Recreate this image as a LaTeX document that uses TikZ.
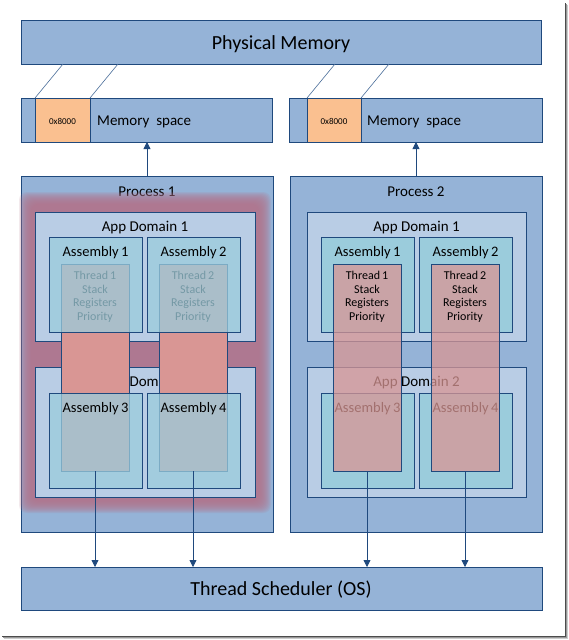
\documentclass[tikz,border=0pt]{standalone}
\usepackage{fontspec}
\setmainfont{Carlito}
\usetikzlibrary{arrows.meta}
\definecolor{bmain}{HTML}{95B3D7}
\definecolor{adom}{HTML}{B9CDE5}
\definecolor{asm}{HTML}{9BCCDC}
\definecolor{orng}{HTML}{FAC090}
\definecolor{salmon}{HTML}{D99694}
\definecolor{glow}{HTML}{B4738A}
\definecolor{edge}{HTML}{1F497D}
\definecolor{thinl}{HTML}{4A6E9A}
\begin{document}
\begin{tikzpicture}[x=1pt,y=-1pt,
  bx/.style={draw=edge, line width=0.8pt, inner sep=0pt, outer sep=0pt, anchor=north west},
  lbl/.style={inner sep=0pt, anchor=base},
  big/.style={font=\fontsize{20}{24}\selectfont},
  mid/.style={font=\fontsize{15}{18}\selectfont},
  asmf/.style={font=\fontsize{14.5}{17}\selectfont},
  thrtext/.style={inner sep=0pt, anchor=north, align=center, font=\fontsize{12}{13.7}\selectfont},
  arr/.style={draw=edge, line width=0.8pt, -{Triangle[width=7pt,length=7pt]}},
  memline/.style={draw=thinl, line width=0.6pt}]
\useasboundingbox (0,0) rectangle (569,640);
\fill[white] (0,0) rectangle (569,640);
% shadow frame
\draw[line width=1pt, black!20] (567,5) -- (567,638.5) -- (4,638.5);
\draw[line width=1pt, black!40] (566,4) -- (566,637.5) -- (3,637.5);
\draw[line width=1pt, black!70] (565,3) -- (565,636.5) -- (2,636.5);

% physical memory
\node[bx, fill=bmain, minimum width=520pt, minimum height=44pt] (pm) at (21,20) {};
\node[lbl, big] (pmt) at (281,49) {Physical Memory};

% memory spaces
\node[bx, fill=bmain, minimum width=251pt, minimum height=44pt] (ms1) at (21,98) {};
\node[bx, fill=orng, minimum width=55pt, minimum height=44pt] (o1) at (35,98) {};
\node[lbl, font=\fontsize{9}{10}\selectfont] (o1t) at (62.5,124) {0x8000};
\node[lbl, mid, anchor=base west] (ms1t) at (97,125) {Memory\ \ space};
\node[bx, fill=bmain, minimum width=253pt, minimum height=44pt] (ms2) at (289,98) {};
\node[bx, fill=orng, minimum width=54pt, minimum height=44pt] (o2) at (307,98) {};
\node[lbl, font=\fontsize{9}{10}\selectfont] (o2t) at (334,124) {0x8000};
\node[lbl, mid, anchor=base west] (ms2t) at (367,125) {Memory\ \ space};
\draw[memline] (o1.north west) -- (pm.south -| 63,0);
\draw[memline] (o1.north east) -- (pm.south -| 118,0);
\draw[memline] (o2.north west) -- (pm.south -| 335,0);
\draw[memline] (o2.north east) -- (pm.south -| 389,0);

% ---------------- Process 1
\node[bx, fill=bmain, minimum width=252pt, minimum height=356pt] (p1) at (21,176) {};
\node[lbl, mid] (p1t) at (147,196.5) {Process 1};
\foreach \i in {0,...,12}
  \fill[glow, fill opacity=0.15, rounded corners=8pt] (31-\i,204-\i) rectangle (259+\i,501+\i);
\node[bx, fill=adom, minimum width=220pt, minimum height=129pt] (ad11) at (35,212) {};
\node[lbl, mid] (ad11t) at (145,231) {App Domain 1};
\node[bx, fill=adom, minimum width=220pt, minimum height=130pt] (ad12) at (35,367) {};
\node[lbl, mid] (ad12t) at (145,386.7) {App Domain 2};
\node[bx, fill=salmon, minimum width=68pt, minimum height=207pt] (t11) at (61,264) {};
\node[thrtext] (t11t) at (95,270.8) {Thread\,1\\Stack\\Registers\\Priority};
\node[bx, fill=salmon, minimum width=68pt, minimum height=207pt] (t12) at (159,264) {};
\node[thrtext] (t12t) at (193,270.8) {Thread\,2\\Stack\\Registers\\Priority};
\node[bx, fill=asm, fill opacity=0.75, minimum width=93pt, minimum height=95pt] (a11) at (49,237) {};
\node[bx, fill=asm, fill opacity=0.75, minimum width=93pt, minimum height=95pt] (a12) at (147,237) {};
\node[bx, fill=asm, fill opacity=0.75, minimum width=93pt, minimum height=95pt] (a13) at (49,393) {};
\node[bx, fill=asm, fill opacity=0.75, minimum width=93pt, minimum height=95pt] (a14) at (147,393) {};
\node[lbl, asmf] (a11t) at (95.5,256) {Assembly\,1};
\node[lbl, asmf] (a12t) at (193.5,256) {Assembly\,2};
\node[lbl, asmf] (a13t) at (95.5,412) {Assembly\,3};
\node[lbl, asmf] (a14t) at (193.5,412) {Assembly\,4};

% ---------------- Process 2
\node[bx, fill=bmain, minimum width=252pt, minimum height=356pt] (p2) at (290,176) {};
\node[lbl, mid] (p2t) at (416,196.5) {Process 2};
\node[bx, fill=adom, minimum width=219pt, minimum height=129pt] (ad21) at (307,212) {};
\node[lbl, mid] (ad21t) at (416.5,231) {App Domain 1};
\node[bx, fill=adom, minimum width=219pt, minimum height=130pt] (ad22) at (307,367) {};
\node[lbl, mid] (ad22t) at (416.5,386.7) {App Domain 2};
\node[bx, fill=asm, minimum width=93pt, minimum height=95pt] (b11) at (321,237) {};
\node[bx, fill=asm, minimum width=93pt, minimum height=95pt] (b12) at (419,237) {};
\node[bx, fill=asm, minimum width=93pt, minimum height=95pt] (b13) at (321,393) {};
\node[bx, fill=asm, minimum width=93pt, minimum height=95pt] (b14) at (419,393) {};
\node[lbl, asmf] (b11t) at (367.5,256) {Assembly\,1};
\node[lbl, asmf] (b12t) at (465.5,256) {Assembly\,2};
\node[lbl, asmf] (b13t) at (367.5,412) {Assembly\,3};
\node[lbl, asmf] (b14t) at (465.5,412) {Assembly\,4};
\node[bx, fill=salmon, fill opacity=0.75, minimum width=68pt, minimum height=207pt] (t21) at (333,264) {};
\node[thrtext] (t21t) at (367,270.8) {Thread\,1\\Stack\\Registers\\Priority};
\node[bx, fill=salmon, fill opacity=0.75, minimum width=68pt, minimum height=207pt] (t22) at (431,264) {};
\node[thrtext] (t22t) at (465,270.8) {Thread\,2\\Stack\\Registers\\Priority};

% scheduler
\node[bx, fill=bmain, minimum width=521pt, minimum height=43pt] (ts) at (21,567) {};
\node[lbl, big] (tst) at (281,595) {Thread Scheduler (OS)};

% arrows
\draw[arr] (p1.north) -- (ms1.south -| p1.north);
\draw[arr] (p2.north) -- (ms2.south -| p2.north);
\draw[arr] (t11.south) -- (t11.south |- ts.north);
\draw[arr] (t12.south) -- (t12.south |- ts.north);
\draw[arr] (t21.south) -- (t21.south |- ts.north);
\draw[arr] (t22.south) -- (t22.south |- ts.north);
\end{tikzpicture}
\end{document}
